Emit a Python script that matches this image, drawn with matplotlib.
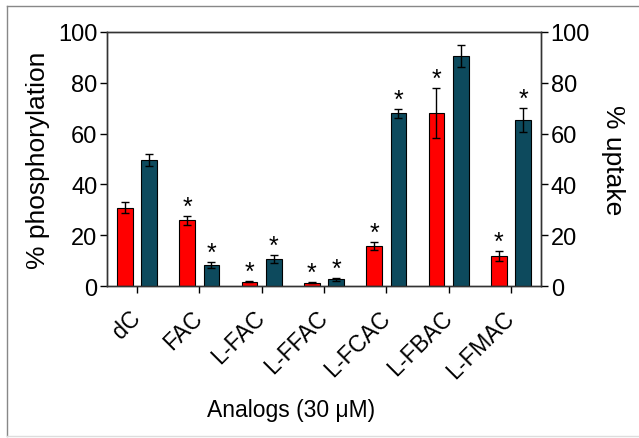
#!/usr/bin/env python3

import numpy as np
import matplotlib
matplotlib.use("Agg")
import matplotlib.pyplot as plt
from matplotlib.lines import Line2D

plt.rcParams['font.family'] = ['Liberation Sans', 'DejaVu Sans']

analogs = ["dC", "FAC", "L-FAC", "L-FFAC", "L-FCAC", "L-FBAC", "L-FMAC"]
phos = [30.9, 25.9, 1.8, 1.4, 15.8, 68.0, 11.8]
phos_err = [2.0, 1.8, 0.3, 0.3, 1.6, 9.9, 2.0]
uptake = [49.7, 8.2, 10.5, 2.6, 68.0, 90.5, 65.4]
uptake_err = [2.4, 1.2, 1.6, 0.4, 1.8, 4.4, 4.7]
phos_sig = [False, True, True, True, True, True, True]
uptake_sig = [False, True, True, True, True, False, True]

red = "#ff0000"
teal = "#0d4a5d"

fig = plt.figure(figsize=(6.39, 4.39), dpi=100)
ax = fig.add_axes([0.1675, 0.346, 0.679, 0.579])
ax2 = ax.twinx()

x = np.arange(len(analogs))
w = 0.25
off = 0.195

ax.bar(x - off, phos, w, color=red, edgecolor="black", linewidth=0.8,
       yerr=phos_err, error_kw=dict(ecolor="black", elinewidth=1, capsize=3, capthick=1))
ax2.bar(x + off, uptake, w, color=teal, edgecolor="black", linewidth=0.8,
        yerr=uptake_err, error_kw=dict(ecolor="black", elinewidth=1, capsize=3, capthick=1))

for i in range(len(analogs)):
    if phos_sig[i]:
        ax.annotate("*", (x[i] - off, phos[i] + phos_err[i]), xytext=(0, -2),
                    textcoords="offset points", ha="center", va="bottom", fontsize=18)
    if uptake_sig[i]:
        ax2.annotate("*", (x[i] + off, uptake[i] + uptake_err[i]), xytext=(0, -2),
                     textcoords="offset points", ha="center", va="bottom", fontsize=18)

for a in (ax, ax2):
    a.set_ylim(0, 100)
    a.set_yticks([0, 20, 40, 60, 80, 100])
    a.tick_params(axis="y", labelsize=17, length=5, width=1, direction="out", pad=2)
    for s in a.spines.values():
        s.set_linewidth(1)
        s.set_color("#333333")

ax.set_xlim(-0.48, 6.48)
ax.set_xticks(x)
ax.set_xticklabels(analogs, rotation=45, ha="right", va="center",
                   rotation_mode="anchor", fontsize=16.5)
ax.tick_params(axis="x", length=5, width=1, direction="out", pad=15)

ax.set_ylabel("% phosphorylation", fontsize=19, labelpad=6)
ax2.set_ylabel("% uptake", fontsize=19, rotation=270, labelpad=25)
ax.set_xlabel("Analogs (30 μM)", fontsize=16.5)
ax.xaxis.set_label_coords(0.424, -0.44)

# thin frame around the whole picture
fig.add_artist(Line2D([0.011, 0.011], [0.005, 0.984], transform=fig.transFigure, color="#888888", lw=1))
fig.add_artist(Line2D([0.011, 1.0], [0.984, 0.984], transform=fig.transFigure, color="#888888", lw=1))
fig.add_artist(Line2D([0.011, 1.0], [0.005, 0.005], transform=fig.transFigure, color="#dddddd", lw=1))

plt.savefig("out.png")
